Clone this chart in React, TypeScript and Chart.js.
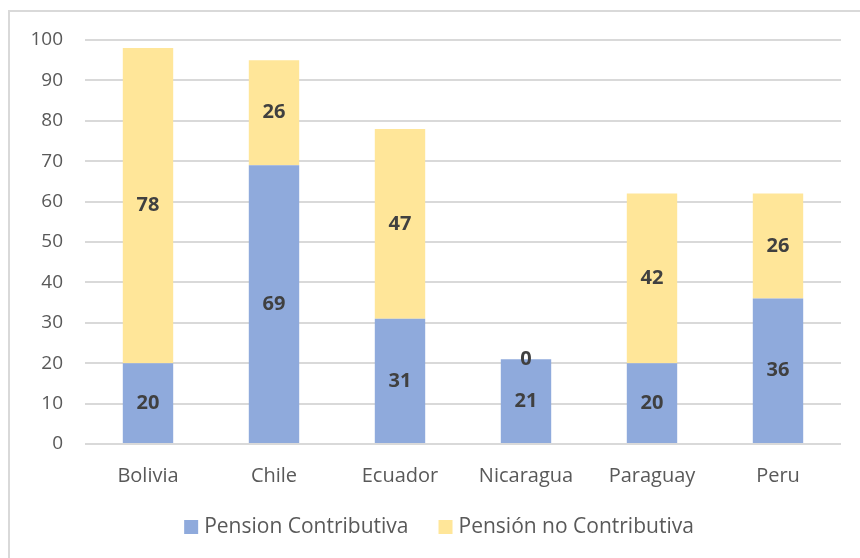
import React, { useEffect, useRef } from "react";
import { Chart, registerables } from "chart.js";

Chart.register(...registerables);

const categories = ["Bolivia", "Chile", "Ecuador", "Nicaragua", "Paraguay", "Peru"];
const contributiva = [20, 69, 31, 21, 20, 36];
const noContributiva = [78, 26, 47, 0, 42, 26];
const seriesNames = ["Pension Contributiva", "Pensión no Contributiva"];
const seriesColors = ["#8FAADC", "#FFE699"];
const yTicks = [0, 10, 20, 30, 40, 50, 60, 70, 80, 90, 100];

const FONT = "'Open Sans', Lato, sans-serif";

const labelPlugin = {
  id: "segLabels",
  afterDatasetsDraw(chart: any) {
    const ctx = chart.ctx;
    ctx.save();
    ctx.font = `bold 20px ${FONT}`;
    ctx.fillStyle = "#404040";
    ctx.textAlign = "center";
    ctx.textBaseline = "middle";
    chart.data.datasets.forEach((ds: any, di: number) => {
      const meta = chart.getDatasetMeta(di);
      meta.data.forEach((bar: any, i: number) => {
        const v = ds.data[i];
        const y = (bar.y + bar.base) / 2;
        ctx.fillText(String(v), bar.x, y);
      });
    });
    ctx.restore();
  },
};

const legendPlugin = {
  id: "customLegend",
  afterDraw(chart: any) {
    const ctx = chart.ctx;
    ctx.save();
    ctx.font = `21px ${FONT}`;
    const box = 14;
    const gap = 6;
    const spacing = 30;
    const widths = seriesNames.map((n) => ctx.measureText(n).width);
    const total = widths.reduce((a, w) => a + box + gap + w, 0) + spacing * (seriesNames.length - 1);
    let x = (chart.width - total) / 2 + 4;
    const y = 515;
    ctx.textBaseline = "middle";
    ctx.textAlign = "left";
    seriesNames.forEach((n, i) => {
      ctx.fillStyle = seriesColors[i];
      ctx.fillRect(x, y - box / 2, box, box);
      ctx.fillStyle = "#595959";
      ctx.fillText(n, x + box + gap, y);
      x += box + gap + widths[i] + spacing;
    });
    ctx.restore();
  },
};

export default function App() {
  const ref = useRef<HTMLCanvasElement | null>(null);
  useEffect(() => {
    if (!ref.current) return;
    const chart = new Chart(ref.current, {
      type: "bar",
      data: {
        labels: categories,
        datasets: [
          {
            label: seriesNames[0],
            data: contributiva,
            backgroundColor: seriesColors[0],
            barPercentage: 0.4,
            categoryPercentage: 1,
          },
          {
            label: seriesNames[1],
            data: noContributiva,
            backgroundColor: seriesColors[1],
            barPercentage: 0.4,
            categoryPercentage: 1,
          },
        ],
      },
      options: {
        animation: false,
        responsive: false,
        maintainAspectRatio: false,
        layout: { padding: { left: 0, right: 19, top: 28, bottom: 64 } },
        plugins: {
          tooltip: { enabled: false },
          legend: { display: false },
        },
        scales: {
          x: {
            stacked: true,
            grid: { display: false, drawTicks: false },
            border: { display: false },
            ticks: { color: "#595959", font: { family: FONT, size: 20 }, padding: 20 },
            afterFit(scale: any) {
              scale.height = 50;
            },
          },
          y: {
            stacked: true,
            min: 0,
            max: 100,
            afterBuildTicks(scale: any) {
              scale.ticks = yTicks.map((v) => ({ value: v }));
            },
            grid: {
              color: "#D9D9D9",
              lineWidth: 2,
              drawTicks: true,
              tickLength: 19,
              tickColor: "rgba(0,0,0,0)",
            },
            border: { display: false },
            ticks: { color: "#595959", font: { family: FONT, size: 19 }, padding: 3 },
            afterFit(scale: any) {
              scale.width = 75;
            },
          },
        },
      },
      plugins: [labelPlugin, legendPlugin],
    } as any);
    return () => chart.destroy();
  }, []);

  return (
    <div
      style={{
        position: "fixed",
        left: 8,
        top: 10,
        width: 900,
        height: 600,
        borderLeft: "2px solid #D9D9D9",
        borderTop: "2px solid #D9D9D9",
        background: "#fff",
      }}
    >
      <canvas ref={ref} width={850} height={546} style={{ display: "block" }} />
    </div>
  );
}
